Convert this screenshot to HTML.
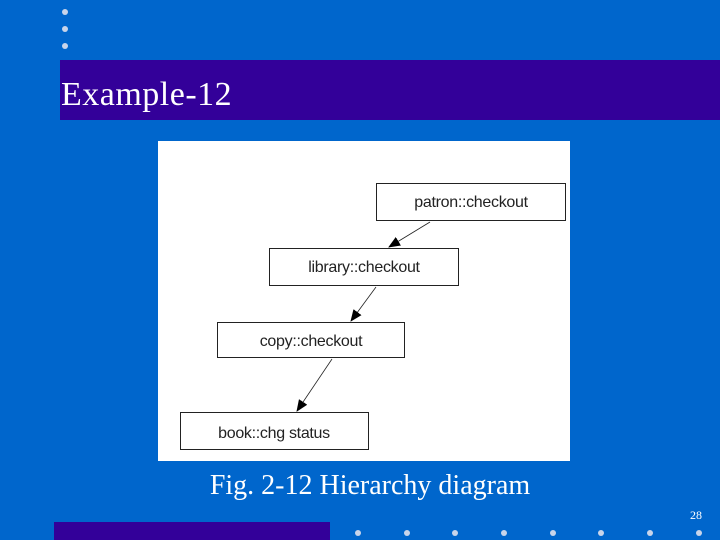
<!DOCTYPE html>
<html><head><style>
body{margin:0;width:720px;height:540px;background:#0066cc;position:relative;overflow:hidden;font-family:"Liberation Serif",serif}
.d{position:absolute;width:6px;height:6px;border-radius:50%;background:#c8d4ea}
</style></head><body>
<div class="d" style="left:62px;top:9px"></div>
<div class="d" style="left:62px;top:26px"></div>
<div class="d" style="left:62px;top:43px"></div>
<div style="position:absolute;left:60px;top:60px;width:660px;height:60px;background:#330099"></div>
<div style="position:absolute;left:61px;top:75px;color:#fff;font-size:34px;line-height:40px;letter-spacing:0.5px">Example-12</div>
<svg style="position:absolute;left:0;top:0" width="720" height="540">
<defs><marker id="a" markerWidth="12" markerHeight="10" refX="11" refY="5" orient="auto" markerUnits="userSpaceOnUse"><path d="M0,0L12,5L0,10z" fill="#000"/></marker></defs>
<rect x="158" y="141" width="412" height="320" fill="#fff"/>
<g fill="#fff" stroke="#222" stroke-width="1">
<rect x="376.5" y="183.5" width="189" height="37"/>
<rect x="269.5" y="248.5" width="189" height="37"/>
<rect x="217.5" y="322.5" width="187" height="35"/>
<rect x="180.5" y="412.5" width="188" height="37"/>
</g>
<g stroke="#222" stroke-width="0.8" marker-end="url(#a)">
<line x1="430" y1="222" x2="389" y2="247"/>
<line x1="376" y1="287" x2="351" y2="321"/>
<line x1="332" y1="359" x2="297" y2="411"/>
</g>
<g font-family="Liberation Sans,sans-serif" font-size="16" fill="#222" text-anchor="middle" letter-spacing="-0.3">
<text x="471" y="207">patron::checkout</text>
<text x="364" y="272">library::checkout</text>
<text x="311" y="346">copy::checkout</text>
<text x="274" y="438">book::chg status</text>
</g>
</svg>
<div style="position:absolute;left:0;width:740px;top:470px;text-align:center;color:#fff;font-size:28px">Fig. 2-12 Hierarchy diagram</div>
<div style="position:absolute;left:690px;top:508px;color:#fff;font-size:12px">28</div>
<div style="position:absolute;left:54px;top:522px;width:276px;height:18px;background:#330099"></div>
<div class="d" style="left:355px;top:530px"></div>
<div class="d" style="left:404px;top:530px"></div>
<div class="d" style="left:452px;top:530px"></div>
<div class="d" style="left:501px;top:530px"></div>
<div class="d" style="left:550px;top:530px"></div>
<div class="d" style="left:598px;top:530px"></div>
<div class="d" style="left:647px;top:530px"></div>
<div class="d" style="left:696px;top:530px"></div>
</body></html>
